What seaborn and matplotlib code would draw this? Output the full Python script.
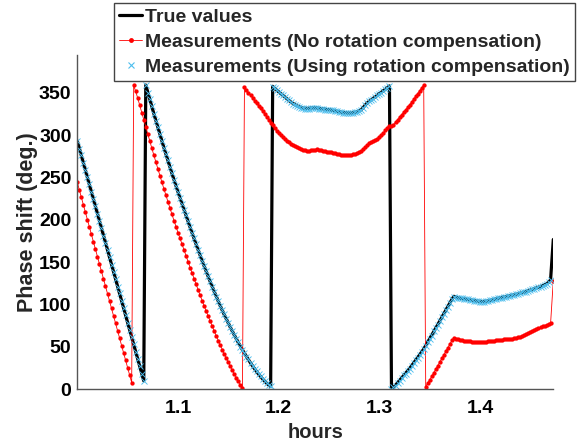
import numpy as np
import matplotlib
matplotlib.use("Agg")
import matplotlib.pyplot as plt
import seaborn as sns

# sample times (hours), one sample every 0.002 h
hours = np.round(1.0 + 0.002 * np.arange(236), 3)
end_hour = 1.4727

true_values = [
    293.0, 284.4, 275.8, 267.2, 258.6, 250.1, 241.5, 232.9, 224.3, 215.7,
    207.1, 198.5, 189.9, 181.3, 172.8, 164.2, 155.6, 147.0, 138.4, 129.8,
    121.2, 112.6, 104.0, 95.5, 86.9, 78.3, 69.7, 61.1, 52.5, 43.9,
    35.3, 26.7, 18.1, 9.6,
    359.0, 350.5, 342.0, 333.6, 325.3, 317.2, 309.1, 301.0, 293.1, 285.1,
    277.4, 269.7, 262.1, 254.6, 247.2, 239.9, 232.8, 225.8, 218.7, 211.7,
    204.8, 197.9, 191.1, 184.3, 177.6, 170.9, 164.3, 157.8, 151.4, 145.1,
    138.9, 132.8, 126.8, 120.9, 114.9, 109.2, 103.6, 98.1, 92.8, 87.6,
    82.6, 77.7, 72.8, 68.1, 63.5, 59.0, 54.6, 50.3, 46.2, 42.2,
    38.3, 34.5, 30.8, 27.3, 23.9, 20.7, 17.6, 14.7, 11.9, 9.3,
    6.9, 4.7, 3.0,
    357.5, 355.0, 353.0, 351.0, 349.0, 347.0, 345.0, 343.0, 341.0, 339.0,
    337.5, 336.0, 334.5, 333.5, 332.5, 332.0, 331.5, 331.5, 331.5, 332.0,
    332.0, 332.0, 332.0, 331.5, 331.0, 331.0, 330.5, 330.0, 330.0, 329.5,
    329.0, 328.5, 328.0, 327.5, 327.0, 326.5, 326.5, 326.0, 326.0, 326.0,
    326.5, 327.0, 327.5, 328.5, 330.0, 332.5, 335.5, 338.0, 340.0, 341.5,
    343.5, 345.0, 347.0, 349.0, 350.5, 352.5, 354.0, 356.0, 358.0,
    0.5, 1.7, 4.5, 7.3, 10.1, 12.9, 15.7, 18.5, 21.3, 24.2,
    27.4, 30.6, 33.8, 37.1, 40.4, 43.8, 47.2, 51.3, 55.3, 59.4,
    63.5, 67.7, 71.9, 76.1, 80.4, 84.6, 88.9, 93.1, 97.4, 101.6,
    105.8,
    109.5, 108.5, 107.8, 107.2, 106.8, 106.4, 106.0, 105.6, 105.2, 104.8,
    104.4, 104.0, 103.7, 103.4, 103.3, 103.4, 103.7, 104.1, 104.6, 105.2,
    105.8, 106.5, 107.2, 107.8, 108.3, 108.8, 109.3, 109.8, 110.3, 110.8,
    111.2, 111.8, 112.4, 113.1, 113.8, 114.5, 115.2, 116.0, 116.8, 117.6,
    118.4, 119.3, 120.2, 121.1, 122.1, 123.2, 124.3, 126.0, 129.0,
]
true_end = 176.6

meas_no_comp = [
    244.0, 235.2, 226.5, 217.7, 209.0, 200.2, 191.4, 182.7, 173.9, 165.2,
    156.4, 147.6, 138.9, 130.1, 121.4, 112.6, 103.8, 95.1, 86.3, 77.6,
    68.8, 60.0, 51.3, 42.5, 33.8, 25.0, 16.2, 7.5,
    358.5, 351.5, 343.5, 335.0, 326.5, 318.0,
    309.5, 301.0, 292.7, 284.4, 276.1, 268.1, 260.1, 252.1, 244.3, 236.4,
    228.8, 221.1, 213.6, 206.2, 198.9, 191.7, 184.7, 177.8, 170.7, 163.8,
    157.0, 150.2, 143.5, 136.8, 130.2, 123.5, 117.0, 110.6, 104.3, 98.1,
    92.0, 86.0, 80.0, 74.2, 68.3, 62.7, 57.2, 51.8, 46.5, 41.4,
    36.5, 31.7, 26.9, 22.3, 17.8, 13.3, 9.0, 4.8, 1.5,
    356.5, 353.3, 350.1, 346.9, 343.8, 340.7, 337.6, 334.5, 331.4, 328.3,
    325.2, 321.7, 318.2, 314.7,
    311.3, 307.9, 305.2, 302.6, 300.1, 297.7, 295.4, 293.3, 291.4, 289.6,
    288.0, 286.6, 285.3, 284.2, 283.3, 282.5, 282.0, 281.6, 281.5, 281.8,
    282.3, 282.8, 283.0, 282.8, 282.2, 281.5, 281.0, 280.5, 280.0, 279.6,
    279.0, 278.4, 277.8, 277.3, 276.9, 276.5, 276.2, 276.0, 276.1, 276.5,
    277.0, 277.6, 278.4, 279.6, 281.4, 283.6, 286.0, 288.4, 290.5, 292.0,
    293.0, 294.2, 295.8, 297.8, 300.0, 302.8, 305.5, 308.2, 310.5,
    311.0, 312.3, 315.2, 318.1, 321.0, 323.9, 326.8, 329.7, 332.6, 335.6,
    338.9, 342.2, 345.5, 348.9, 352.3, 355.8, 359.2,
    2.8, 6.8, 10.9, 15.0, 19.2, 23.4, 27.6, 31.9, 36.1, 40.4,
    44.6, 48.9, 53.1, 57.3,
    60.0, 59.2, 58.5, 58.0, 57.6, 57.2, 56.8, 56.5, 56.2, 56.0,
    55.8, 55.6, 55.5, 55.5, 55.6, 55.8, 56.0, 56.3, 56.6, 56.9,
    57.2, 57.5, 57.8, 58.1, 58.4, 58.6, 58.8, 59.0, 59.2, 59.4,
    59.7, 60.3, 61.1, 62.0, 63.0, 64.0, 65.0, 66.0, 67.0, 68.1,
    69.3, 70.5, 71.6, 72.8, 73.9, 74.8, 75.5, 76.3, 77.5,
]
meas_no_comp_end = 128.0

meas_comp = [
    293, 284, 276, 267, 259, 250, 242, 233, 224, 216,
    207, 199, 190, 181, 173, 164, 156, 147, 138, 130,
    121, 113, 104, 96, 87, 78, 70, 61, 53, 44,
    35, 27, 18, 9,
    359, 350, 342, 334, 325, 317, 309, 301, 293, 285,
    277, 270, 262, 255, 247, 240, 233, 226, 219, 212,
    205, 198, 191, 184, 178, 171, 164, 158, 151, 145,
    139, 133, 127, 121, 115, 109, 104, 98, 93, 88,
    83, 78, 73, 68, 64, 59, 55, 50, 46, 42,
    38, 35, 31, 27, 24, 21, 18, 15, 12, 9,
    7, 5, 3,
    357, 355, 353, 351, 349, 347, 345, 343, 341, 339,
    337, 336, 334, 333, 332, 332, 331, 331, 331, 332,
    332, 332, 332, 331, 331, 331, 330, 330, 330, 329,
    329, 328, 328, 327, 327, 326, 326, 326, 326, 326,
    326, 327, 327, 328, 330, 332, 335, 338, 340, 341,
    343, 345, 347, 349, 350, 352, 354, 356, 358,
    0, 2, 4, 7, 10, 13, 16, 18, 21, 24,
    27, 31, 34, 37, 40, 44, 47, 51, 55, 59,
    63, 68, 72, 76, 80, 85, 89, 93, 97, 102,
    106,
    109, 108, 108, 107, 107, 106, 106, 106, 105, 105,
    104, 104, 104, 103, 103, 103, 104, 104, 105, 105,
    106, 106, 107, 108, 108, 109, 109, 110, 110, 111,
    111, 112, 112, 113, 114, 114, 115, 116, 117, 118,
    118, 119, 120, 121, 122, 123, 124, 126, 129,
]

y_ticks = [0, 50, 100, 150, 200, 250, 300, 350]
x_ticks = [1.1, 1.2, 1.3, 1.4]
labels = ["True values",
          "Measurements (No rotation compensation)",
          "Measurements (Using rotation compensation)"]

sns.set_style("white")
plt.rcParams["font.family"] = ["Liberation Sans", "DejaVu Sans"]
plt.rcParams["font.weight"] = "bold"

W, H = 581, 446
FS = 14
fig = plt.figure(figsize=(W / 100, H / 100), dpi=100)
AX_L, AX_R, AX_B, AX_T = 77, 553.3, 389, 55
ax = fig.add_axes([AX_L / W, 1 - AX_B / H, (AX_R - AX_L) / W, (AX_B - AX_T) / H])

blue = "#4DBEEE"
hx = list(hours) + [end_hour]
sns.lineplot(x=hx, y=true_values + [true_end], ax=ax, color="black", lw=2.3,
             sort=False, estimator=None, label=labels[0])
sns.lineplot(x=hx, y=meas_no_comp + [meas_no_comp_end], ax=ax, color="red",
             lw=0.6, marker="o", markersize=3.1, markeredgewidth=0,
             markerfacecolor="red",
             sort=False, estimator=None, label=labels[1])
sns.lineplot(x=list(hours), y=meas_comp, ax=ax, color=blue, linestyle="none",
             marker="x", markersize=3.7, markeredgewidth=0.65,
             markeredgecolor=blue,
             sort=False, estimator=None, label=labels[2])

ax.set_xlim(0.9997, 1.4727)
ax.set_ylim(0, 394.5)
ax.set_xticks(x_ticks)
ax.set_xticklabels([f"{v:.1f}" for v in x_ticks])
ax.set_yticks(y_ticks)
ax.tick_params(axis="both", direction="in", length=4, width=0.8,
               color="#444444", labelcolor="black", labelsize=FS)
ax.tick_params(axis="x", pad=8)
ax.tick_params(axis="y", pad=4)
for t in ax.get_xticklabels() + ax.get_yticklabels():
    t.set_fontweight("bold")
for s in ["top", "right"]:
    ax.spines[s].set_visible(False)
for s in ["left", "bottom"]:
    ax.spines[s].set_color("#555555")
    ax.spines[s].set_linewidth(1.0)

ax.set_xlabel("hours", fontsize=14.5, fontweight="bold")
ax.set_ylabel("Phase shift (deg.)", fontsize=15.5, fontweight="bold")
ax.xaxis.set_label_coords(0.5, (AX_B - 423.5) / (AX_B - AX_T))
ax.yaxis.set_label_coords((38 - AX_L) / (AX_R - AX_L), 0.5)

handles, labs = ax.get_legend_handles_labels()
ax.get_legend().remove()
leg = fig.legend(handles, labs, loc="upper left",
                 bbox_to_anchor=(114 / W, 1 - 3.3 / H), borderaxespad=0,
                 frameon=True, fancybox=False, framealpha=1,
                 prop={"weight": "bold", "size": FS},
                 handlelength=1.2, handletextpad=0.15, labelspacing=0.38,
                 borderpad=0.25)
leg.get_frame().set_edgecolor("#444444")
leg.get_frame().set_linewidth(1.0)
leg.legend_handles[2].set_markersize(5)
leg.legend_handles[2].set_markeredgewidth(0.8)
leg.legend_handles[1].set_markersize(3.5)

fig.savefig("out.png", dpi=100)
